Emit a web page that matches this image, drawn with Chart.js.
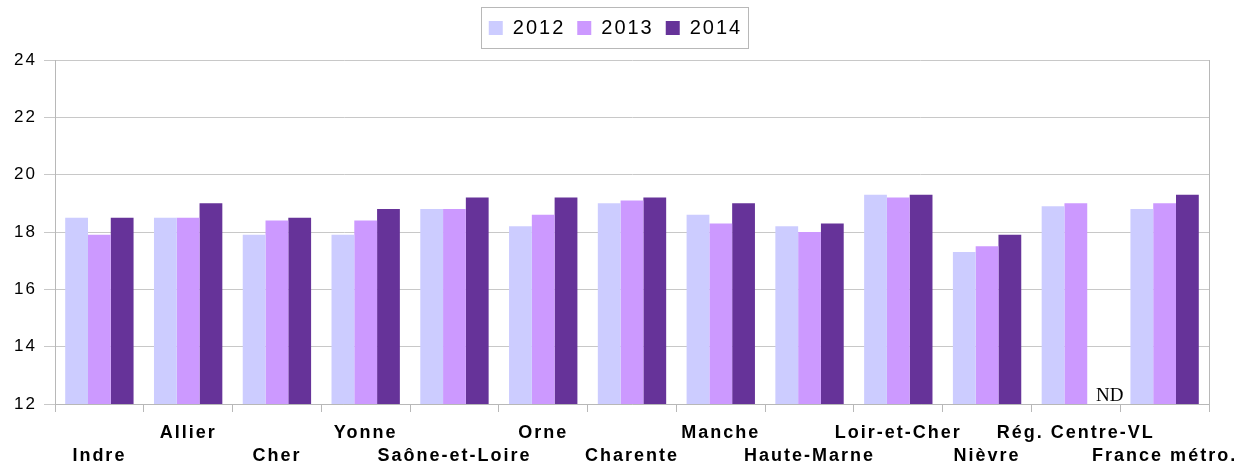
<!DOCTYPE html>
<html>
<head>
<meta charset="utf-8">
<script src="https://cdn.jsdelivr.net/npm/chart.js@4/dist/chart.umd.min.js"></script>
<style>
  html, body { margin: 0; padding: 0; background: #fff; }
  #cadre { width: 1239px; height: 466px; position: relative; }
</style>
</head>
<body>
<div id="cadre"><canvas id="grafico"></canvas></div>
<script>
// ===== données =====
const territoires = ['Indre', 'Allier', 'Cher', 'Yonne', 'Saône-et-Loire', 'Orne', 'Charente',
  'Manche', 'Haute-Marne', 'Loir-et-Cher', 'Nièvre', 'Rég. Centre-VL', 'France métro.'];

const valeurs2012 = [18.5, 18.5, 17.9, 17.9, 18.8, 18.2, 19.0, 18.6, 18.2, 19.3, 17.3, 18.9, 18.8];
const valeurs2013 = [17.9, 18.5, 18.4, 18.4, 18.8, 18.6, 19.1, 18.3, 18.0, 19.2, 17.5, 19.0, 19.0];
const valeurs2014 = [18.5, 19.0, 18.5, 18.8, 19.2, 19.2, 19.2, 19.0, 18.3, 19.3, 17.9, null, 19.3]; // ND pour la région

const ticksY = [12, 14, 16, 18, 20, 22, 24];
const texteND = 'ND';

const gris = '#b8b8b8';

// ===== plugins =====
// LibreOffice espace un peu les lettres
const espacement = {
  id: 'espacement',
  beforeUpdate(chart) { chart.ctx.letterSpacing = '2px'; },
  beforeDraw(chart) { chart.ctx.letterSpacing = '2px'; }
};

// cadre de la légende, bord droit du graphe, mention ND
const decor = {
  id: 'decor',
  afterDraw(chart) {
    const { ctx, chartArea: a, legend } = chart;
    ctx.save();
    ctx.strokeStyle = gris;
    ctx.lineWidth = 1;

    ctx.beginPath();
    ctx.moveTo(Math.round(a.right) + 0.5, a.top);
    ctx.lineTo(Math.round(a.right) + 0.5, a.bottom);
    ctx.stroke();

    const hb = legend.legendHitBoxes;
    const dernier = hb[hb.length - 1];
    const l = Math.round(hb[0].left - 8) + 0.5;
    const r = Math.round(dernier.left + dernier.width + 6) + 0.5;
    const t = Math.round(hb[0].top - 11) + 0.5;
    const b = Math.round(hb[0].top + hb[0].height + 10) + 0.5;
    ctx.strokeRect(l, t, r - l, b - t);

    // ND
    const meta = chart.getDatasetMeta(2);
    const idx = valeurs2014.indexOf(null);
    let x = meta.data[idx] ? meta.data[idx].x : NaN;
    if (!isFinite(x)) x = chart.scales.x.getPixelForValue(idx) + 23;
    ctx.letterSpacing = '0px';
    ctx.font = '19px "Liberation Serif"';
    ctx.fillStyle = '#000';
    ctx.textAlign = 'center';
    ctx.textBaseline = 'alphabetic';
    ctx.fillText(texteND, x + 11, a.bottom - 3);
    ctx.restore();
  }
};

// ===== graphique =====
const ctx = document.getElementById('grafico');

new Chart(ctx, {
  type: 'bar',
  data: {
    labels: territoires,
    datasets: [
      { label: '2012', data: valeurs2012, backgroundColor: '#ccccff', borderWidth: 0 },
      { label: '2013', data: valeurs2013, backgroundColor: '#cc99ff', borderWidth: 0 },
      { label: '2014', data: valeurs2014, backgroundColor: '#663399', borderWidth: 0 }
    ]
  },
  options: {
    responsive: true,
    maintainAspectRatio: false,
    animation: false,
    layout: { padding: { left: 8, right: 16, top: 6, bottom: 0 } },
    datasets: { bar: { categoryPercentage: 0.77, barPercentage: 1 } },

    plugins: {
      legend: {
        position: 'top',
        labels: {
          boxWidth: 14,
          boxHeight: 14,
          padding: 12,
          color: '#000',
          font: { family: 'Liberation Sans', size: 20 }
        }
      },
      // titre vide : sert d'espace entre la légende et le graphe
      title: {
        display: true,
        text: '',
        weight: 500,
        padding: { top: 12, bottom: 0 },
        font: { size: 1, lineHeight: 0 }
      },
      tooltip: { enabled: false }
    },

    scales: {
      x: {
        afterFit: s => { s.height = 62; s.paddingLeft = 0; s.paddingRight = 30; },
        grid: { offset: true, drawOnChartArea: false, tickLength: 8, color: gris },
        border: { color: gris },
        ticks: {
          autoSkip: false,
          maxRotation: 0,
          minRotation: 0,
          padding: 10,
          color: '#000',
          font: { family: 'Liberation Sans', size: 18, weight: 'bold', lineHeight: 1.25 },
          // étiquettes en quinconce
          callback: (v, i) => (i % 2 === 0 ? ['', territoires[i]] : [territoires[i]])
        }
      },
      y: {
        min: 12,
        max: 24,
        afterFit: s => { s.width = 47; },
        afterBuildTicks: s => { s.ticks = ticksY.map(v => ({ value: v })); },
        grid: { color: '#c8c8c8', tickLength: 11 },
        border: { color: gris },
        ticks: {
          padding: 7,
          color: '#000',
          font: { family: 'Liberation Sans', size: 17 }
        }
      }
    }
  },
  plugins: [espacement, decor]
});
</script>
</body>
</html>
